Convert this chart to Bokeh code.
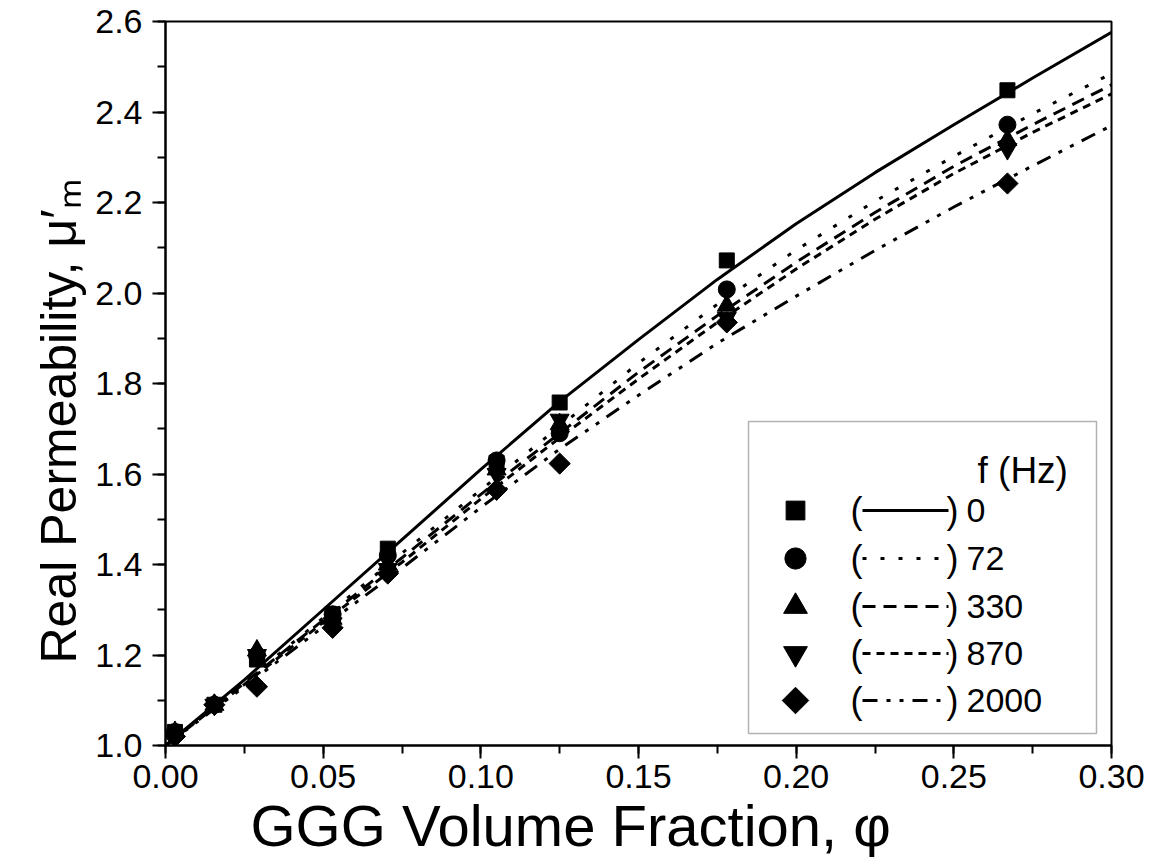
import numpy as np
from bokeh.plotting import figure
from bokeh.models import FixedTicker, NumeralTickFormatter, Label, BoxAnnotation, Range1d, Title
from bokeh.embed import file_html
from bokeh.resources import INLINE

FONT = "Liberation Sans"

# ---------------- data ----------------
phi_pts = [0.003, 0.0155, 0.029, 0.053, 0.0705, 0.105, 0.125, 0.178, 0.267]
mu_0    = [1.03, 1.09, 1.19, 1.29, 1.435, 1.625, 1.758, 2.072, 2.448]
mu_72   = [1.03, 1.09, 1.20, 1.29, 1.420, 1.630, 1.690, 2.008, 2.372]
mu_330  = [1.03, 1.09, 1.21, 1.28, 1.400, 1.610, 1.710, 1.972, 2.338]
mu_870  = [1.02, 1.09, 1.20, 1.27, 1.390, 1.600, 1.720, 1.945, 2.318]
mu_2000 = [1.02, 1.09, 1.13, 1.26, 1.380, 1.565, 1.623, 1.935, 2.242]

phi_fit  = [0.0, 0.025, 0.05, 0.075, 0.10, 0.125, 0.15, 0.175, 0.20, 0.225, 0.25, 0.275, 0.30]
fit_0    = [1.0, 1.145, 1.300, 1.455, 1.610, 1.760, 1.897, 2.030, 2.153, 2.266, 2.372, 2.475, 2.576]
fit_72   = [1.0, 1.140, 1.282, 1.425, 1.565, 1.705, 1.845, 1.975, 2.095, 2.203, 2.302, 2.396, 2.485]
fit_330  = [1.0, 1.138, 1.277, 1.415, 1.555, 1.690, 1.825, 1.950, 2.068, 2.178, 2.280, 2.372, 2.460]
fit_870  = [1.0, 1.135, 1.272, 1.405, 1.545, 1.680, 1.810, 1.935, 2.053, 2.163, 2.264, 2.355, 2.440]
fit_2000 = [1.0, 1.130, 1.262, 1.392, 1.526, 1.655, 1.774, 1.889, 1.993, 2.094, 2.190, 2.281, 2.370]

freq_labels = ["0", "72", "330", "870", "2000"]
x_ticks = [0.0, 0.05, 0.10, 0.15, 0.20, 0.25, 0.30]
y_ticks = [1.0, 1.2, 1.4, 1.6, 1.8, 2.0, 2.2, 2.4, 2.6]
x_title = "GGG Volume Fraction, φ"
y_title = "Real Permeability, μ′ₘ"
legend_title = "f (Hz)"

series = [
    (mu_0, fit_0, "square", 15, 0.0, "solid"),
    (mu_72, fit_72, "circle", 17, 0.0, "4 14"),
    (mu_330, fit_330, "triangle", 19, 0.0, "13 8"),
    (mu_870, fit_870, "inverted_triangle", 19, 0.0, "8 6"),
    (mu_2000, fit_2000, "square", 15, np.pi / 4, "15 9 4 9 4 9"),
]

X0, X1, Y0, Y1 = 0.0, 0.30, 1.0, 2.6
# frame in picture pixels (for placing the legend)
FL, FR, FT, FB = 165, 1111, 21, 745


def dx(px):
    return X0 + (px - FL) / (FR - FL) * (X1 - X0)


def dy(py):
    return Y0 + (FB - py) / (FB - FT) * (Y1 - Y0)


p = figure(output_backend="svg", toolbar_location=None,
           frame_width=FR - FL, frame_height=FB - FT,
           x_range=Range1d(X0, X1), y_range=Range1d(Y0, Y1),
           min_border_left=FL, min_border_right=35,
           min_border_top=FT, min_border_bottom=100)
p.background_fill_color = "white"
p.border_fill_color = "white"
p.outline_line_color = "black"
p.outline_line_width = 2
p.grid.visible = False

for ax in (p.xaxis[0], p.yaxis[0]):
    ax.axis_line_width = 2
    ax.major_tick_line_width = 2
    ax.minor_tick_line_width = 2
    ax.major_tick_out = 13
    ax.major_tick_in = 0
    ax.minor_tick_out = 8
    ax.minor_tick_in = 0
    ax.major_label_text_font = FONT
    ax.major_label_text_font_size = "34px"
    ax.major_label_text_color = "black"
    ax.axis_line_color = "black"
    ax.major_tick_line_color = "black"
    ax.minor_tick_line_color = "black"

p.xaxis[0].ticker = FixedTicker(ticks=x_ticks, minor_ticks=list(np.round(np.arange(0, 0.3001, 0.025), 3)))
p.yaxis[0].ticker = FixedTicker(ticks=y_ticks, minor_ticks=list(np.round(np.arange(1.0, 2.6001, 0.1), 2)))
p.xaxis[0].formatter = NumeralTickFormatter(format="0.00")
p.yaxis[0].formatter = NumeralTickFormatter(format="0.0")
p.xaxis[0].major_label_standoff = 6
p.yaxis[0].major_label_standoff = 10

p.add_layout(Title(text=y_title, align="left", offset=82, standoff=12,
                   text_font=FONT, text_font_size="50px", text_font_style="normal",
                   text_color="black"), "left")
p.add_layout(Title(text=x_title, align="left", offset=85, standoff=0,
                   text_font=FONT, text_font_size="58px", text_font_style="normal",
                   text_color="black"), "below")

# curves then markers
for mu, fit, marker, size, ang, dash in series:
    p.line(phi_fit, fit, line_color="black", line_width=3, line_dash=dash)
for mu, fit, marker, size, ang, dash in series:
    p.scatter(phi_pts, mu, marker=marker, size=size, angle=ang,
              fill_color="black", line_color="black")

# legend box
p.add_layout(BoxAnnotation(left=dx(748), right=dx(1096), top=dy(421), bottom=dy(733),
                           fill_alpha=0, line_color="black", line_width=1.5))
p.add_layout(Label(x=dx(977), y=dy(470), text=legend_title, text_font=FONT,
                   text_font_size="37px", text_color="black",
                   text_align="left", text_baseline="middle"))
row_y = [510, 558, 606, 653, 700]
for (mu, fit, marker, size, ang, dash), lab, ry in zip(series, freq_labels, row_y):
    p.scatter([dx(795)], [dy(ry)], marker=marker, size=size * 1.25, angle=ang,
              fill_color="black", line_color="black")
    p.line([dx(862), dx(948)], [dy(ry), dy(ry)], line_color="black", line_width=3, line_dash=dash)
    for t, xx in (("(", 856), (")", 952)):
        p.add_layout(Label(x=dx(xx), y=dy(ry), text=t, text_font=FONT, text_font_size="36px",
                           text_color="black", text_align="center", text_baseline="middle"))
    p.add_layout(Label(x=dx(966), y=dy(ry), text=lab, text_font=FONT, text_font_size="34px",
                       text_color="black", text_align="left", text_baseline="middle"))

open("out.html", "w").write(file_html(p, INLINE))
